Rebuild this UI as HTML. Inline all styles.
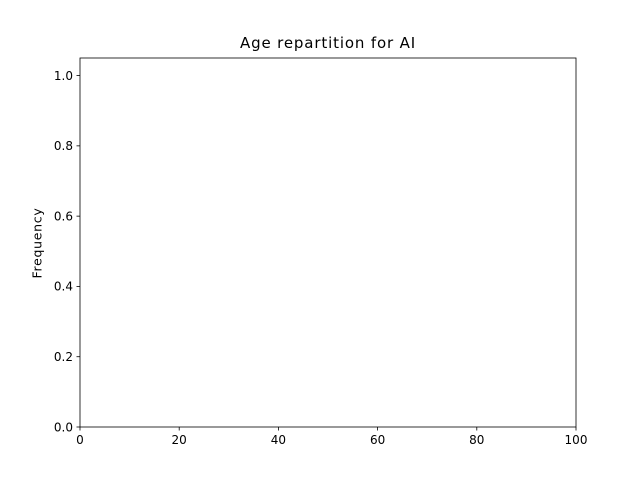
<!DOCTYPE html>
<html><head><meta charset="utf-8"><style>
html,body{margin:0;padding:0;background:#fff;}
svg{display:block;font-family:"DejaVu Sans","Liberation Sans",sans-serif;}
</style></head><body>
<svg id="chart" width="640" height="480" viewBox="0 0 640 480">
<rect width="640" height="480" fill="#fff"/>
<text x="328" y="48" text-anchor="middle" font-size="15" letter-spacing="0.85" fill="#000">Age repartition for AI</text>
<text transform="translate(41.5,243) rotate(-90)" text-anchor="middle" font-size="12.5" letter-spacing="0.7" fill="#000">Frequency</text>
<g id="marks"></g>
<g id="axes"></g>
</svg>
<script>
const xTicks = [0, 20, 40, 60, 80, 100];
const yTicks = [0.0, 0.2, 0.4, 0.6, 0.8, 1.0];
const ages = [];
const counts = [];
const X0 = 80, X1 = 576, Y0 = 427, Y1 = 58;
const xMin = 0, xMax = 100, yMin = 0, yMax = 1.05;
function xs(v){return X0 + (v - xMin) / (xMax - xMin) * (X1 - X0);}
function ys(v){return Y0 - (v - yMin) / (yMax - yMin) * (Y0 - Y1);}
const NS = "http://www.w3.org/2000/svg";
const axes = document.getElementById('axes');
const marks = document.getElementById('marks');
function mk(tag, attrs, parent){const e=document.createElementNS(NS,tag);for(const k in attrs)e.setAttribute(k,attrs[k]);parent.appendChild(e);return e;}
for (let i = 0; i < counts.length; i++) {
  const r = mk('rect', {x: xs(ages[i]), y: ys(counts[i]), width: xs(ages[i]+1)-xs(ages[i]), height: ys(0)-ys(counts[i]), fill:'#1f77b4'}, marks);
  
  
}
xTicks.forEach(v => {
  const x = xs(v);
  const t = mk('line', {x1:x, x2:x, y1:Y0, y2:Y0+3.5, stroke:'#000', 'stroke-width':0.8}, axes);
  
  
  const l = mk('text', {x:x, y:Y0+17, 'text-anchor':'middle', 'font-size':12, fill:'#000'}, axes);
  l.textContent = String(v);
  
  
});
yTicks.forEach(v => {
  const y = ys(v);
  const t = mk('line', {x1:X0-3.5, x2:X0, y1:y, y2:y, stroke:'#000', 'stroke-width':0.8}, axes);
  
  
  const l = mk('text', {x:X0-7, y:y+4.3, 'text-anchor':'end', 'font-size':12, fill:'#000'}, axes);
  l.textContent = v.toFixed(1);
  
  
});
const frame = mk('rect', {x:X0, y:Y1, width:X1-X0, height:Y0-Y1, fill:'none', stroke:'#000', 'stroke-width':0.8}, axes);


</script>
</body></html>
